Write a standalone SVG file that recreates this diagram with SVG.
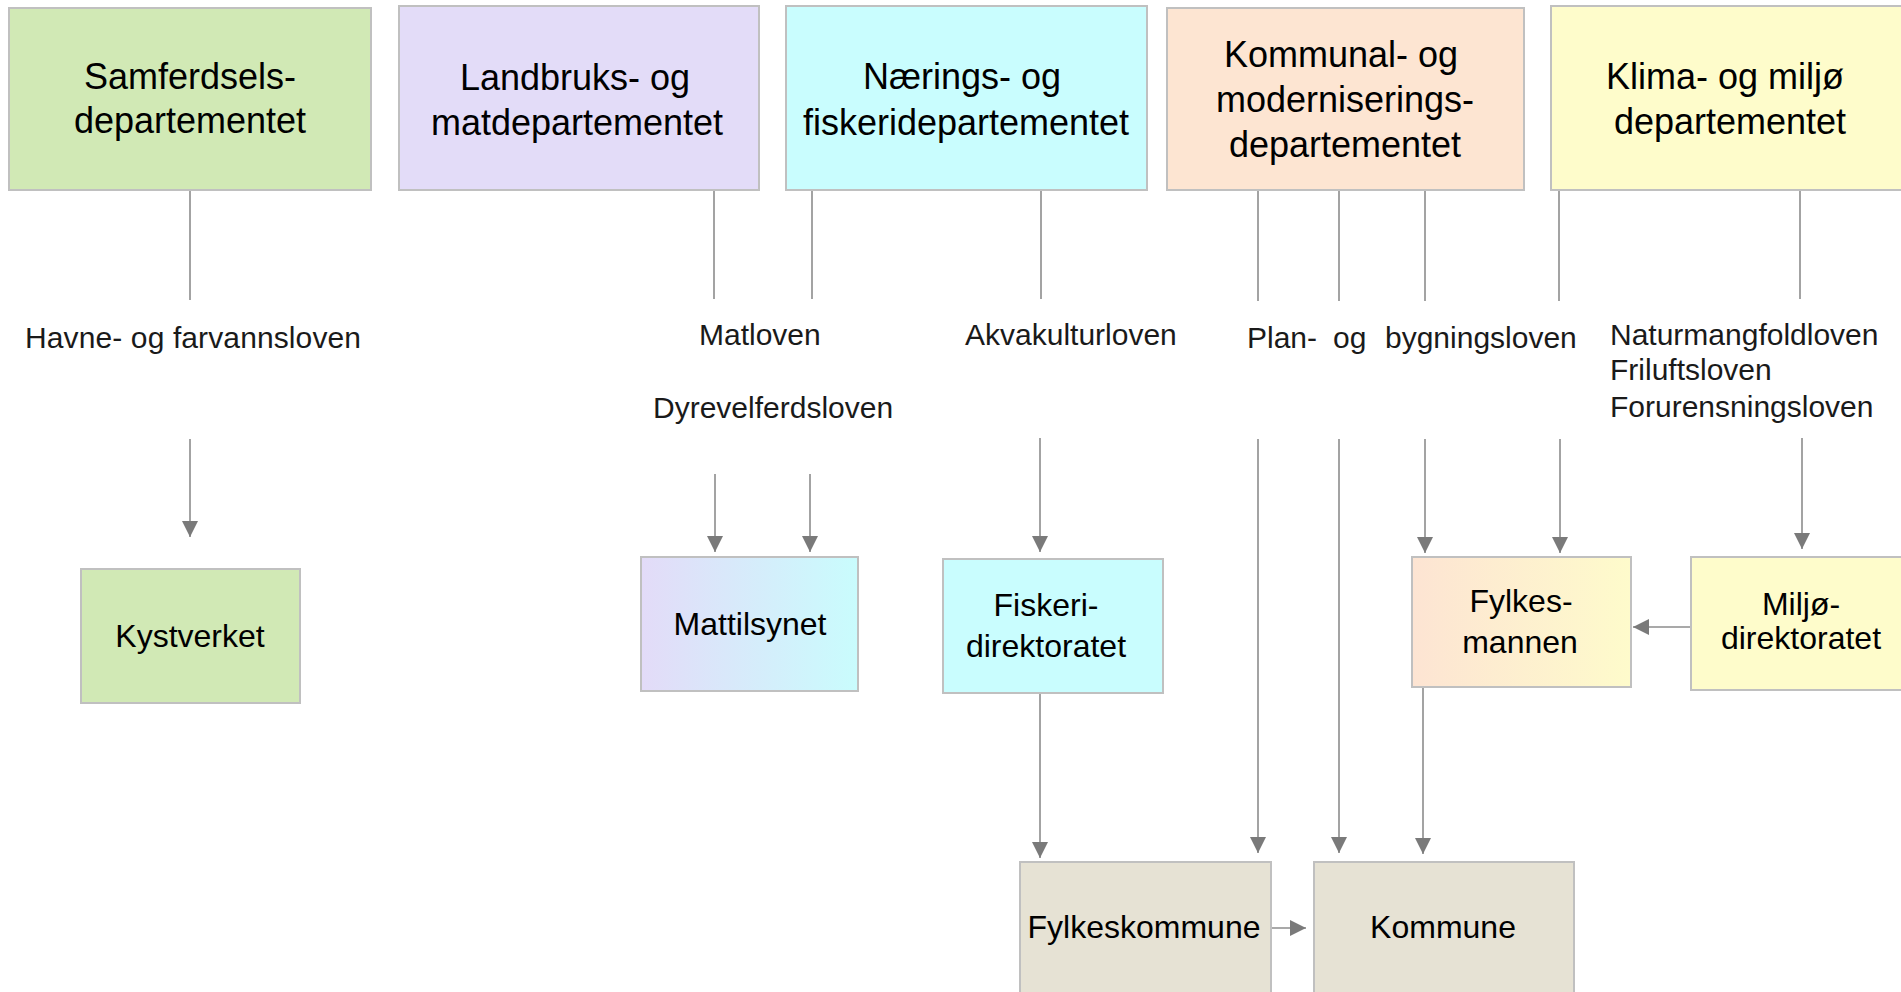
<svg xmlns="http://www.w3.org/2000/svg" width="1901" height="992" viewBox="0 0 1901 992">
<defs>
<linearGradient id="gMat" x1="0" y1="0" x2="1" y2="0"><stop offset="0" stop-color="#e3dbf8"/><stop offset="1" stop-color="#c9fcfd"/></linearGradient>
<linearGradient id="gFyl" x1="0" y1="0" x2="1" y2="0"><stop offset="0" stop-color="#fde4d3"/><stop offset="1" stop-color="#fefbcb"/></linearGradient>
<marker id="arr" markerUnits="userSpaceOnUse" markerWidth="17" markerHeight="17" refX="16" refY="8" orient="auto"><path d="M0,0 L16,8 L0,16 z" fill="#7a7a7a"/></marker>
<style>
.box{stroke:#c0c0c0;stroke-width:2}
.t{font-family:"Liberation Sans",Arial,sans-serif;fill:#000;text-anchor:middle}
.big{font-size:36px}
.mid{font-size:32px}
.law{font-family:"Liberation Sans",Arial,sans-serif;font-size:30px;fill:#1a1a1a}
.c{stroke:#8c8c8c;stroke-width:1.6;fill:none}
.a{stroke:#8c8c8c;stroke-width:1.6;fill:none;marker-end:url(#arr)}
</style>
</defs>
<rect width="1901" height="992" fill="#fff"/>

<g id="connectors">
<line class="c" x1="190" y1="191" x2="190" y2="300"/>
<line class="a" x1="190" y1="439" x2="190" y2="537"/>
<line class="c" x1="714" y1="191" x2="714" y2="299"/>
<line class="a" x1="715" y1="474" x2="715" y2="552"/>
<line class="c" x1="812" y1="191" x2="812" y2="299"/>
<line class="a" x1="810" y1="474" x2="810" y2="552"/>
<line class="c" x1="1041" y1="191" x2="1041" y2="299"/>
<line class="a" x1="1040" y1="438" x2="1040" y2="552"/>
<line class="c" x1="1258" y1="191" x2="1258" y2="301"/>
<line class="c" x1="1339" y1="191" x2="1339" y2="301"/>
<line class="c" x1="1425" y1="191" x2="1425" y2="301"/>
<line class="c" x1="1559" y1="191" x2="1559" y2="301"/>
<line class="a" x1="1258" y1="439" x2="1258" y2="853"/>
<line class="a" x1="1339" y1="439" x2="1339" y2="853"/>
<line class="a" x1="1425" y1="439" x2="1425" y2="553"/>
<line class="a" x1="1560" y1="439" x2="1560" y2="553"/>
<line class="c" x1="1800" y1="191" x2="1800" y2="299"/>
<line class="a" x1="1802" y1="438" x2="1802" y2="549"/>
<line class="a" x1="1691" y1="627" x2="1633" y2="627"/>
<line class="a" x1="1040" y1="693" x2="1040" y2="858"/>
<line class="a" x1="1423" y1="687" x2="1423" y2="854"/>
<line class="a" x1="1271" y1="928" x2="1306" y2="928"/>
</g>

<g id="laws">
<text class="law" x="25" y="348" textLength="336" lengthAdjust="spacing">Havne- og farvannsloven</text>
<text class="law" x="699" y="345">Matloven</text>
<text class="law" x="653" y="418">Dyrevelferdsloven</text>
<text class="law" x="965" y="345">Akvakulturloven</text>
<text class="law" y="348"><tspan x="1247">Plan-</tspan><tspan x="1333">og</tspan><tspan x="1385">bygningsloven</tspan></text>
<text class="law" x="1610" y="345">Naturmangfoldloven</text>
<text class="law" x="1610" y="380">Friluftsloven</text>
<text class="law" x="1610" y="417">Forurensningsloven</text>
</g>

<g id="samferdsel">
<rect class="box" x="9" y="8" width="362" height="182" fill="#d1e9b5"/>
<text class="t big" x="190" y="89">Samferdsels-</text>
<text class="t big" x="190" y="133">departementet</text>
</g>
<g id="landbruk">
<rect class="box" x="399" y="6" width="360" height="184" fill="#e3dcf8"/>
<text class="t big" x="575" y="90">Landbruks- og</text>
<text class="t big" x="577" y="135">matdepartementet</text>
</g>
<g id="naering">
<rect class="box" x="786" y="6" width="361" height="184" fill="#c9fdfe"/>
<text class="t big" x="962" y="89">Nærings- og</text>
<text class="t big" x="966" y="135">fiskeridepartementet</text>
</g>
<g id="kommunal">
<rect class="box" x="1167" y="8" width="357" height="182" fill="#fde5d2"/>
<text class="t big" x="1341" y="67">Kommunal- og</text>
<text class="t big" x="1345" y="112">moderniserings-</text>
<text class="t big" x="1345" y="157">departementet</text>
</g>
<g id="klima">
<rect class="box" x="1551" y="6" width="360" height="184" fill="#fefccb"/>
<text class="t big" x="1725" y="89">Klima- og miljø</text>
<text class="t big" x="1730" y="134">departementet</text>
</g>
<g id="kystverket">
<rect class="box" x="81" y="569" width="219" height="134" fill="#d1e9b5"/>
<text class="t mid" x="190" y="647">Kystverket</text>
</g>
<g id="mattilsynet">
<rect class="box" x="641" y="557" width="217" height="134" fill="url(#gMat)"/>
<text class="t mid" x="750" y="635">Mattilsynet</text>
</g>
<g id="fiskeridir">
<rect class="box" x="943" y="559" width="220" height="134" fill="#c9fdfe"/>
<text class="t mid" x="1046" y="616">Fiskeri-</text>
<text class="t mid" x="1046" y="657">direktoratet</text>
</g>
<g id="fylkesmannen">
<rect class="box" x="1412" y="557" width="219" height="130" fill="url(#gFyl)"/>
<text class="t mid" x="1521" y="612">Fylkes-</text>
<text class="t mid" x="1520" y="653">mannen</text>
</g>
<g id="miljodir">
<rect class="box" x="1691" y="557" width="222" height="133" fill="#fefccb"/>
<text class="t mid" x="1801" y="615">Miljø-</text>
<text class="t mid" x="1801" y="649">direktoratet</text>
</g>
<g id="fylkeskommune">
<rect class="box" x="1020" y="862" width="251" height="140" fill="#e6e2d4"/>
<text class="t mid" x="1144" y="938">Fylkeskommune</text>
</g>
<g id="kommune">
<rect class="box" x="1314" y="862" width="260" height="140" fill="#e6e2d4"/>
<text class="t mid" x="1443" y="938">Kommune</text>
</g>
</svg>
